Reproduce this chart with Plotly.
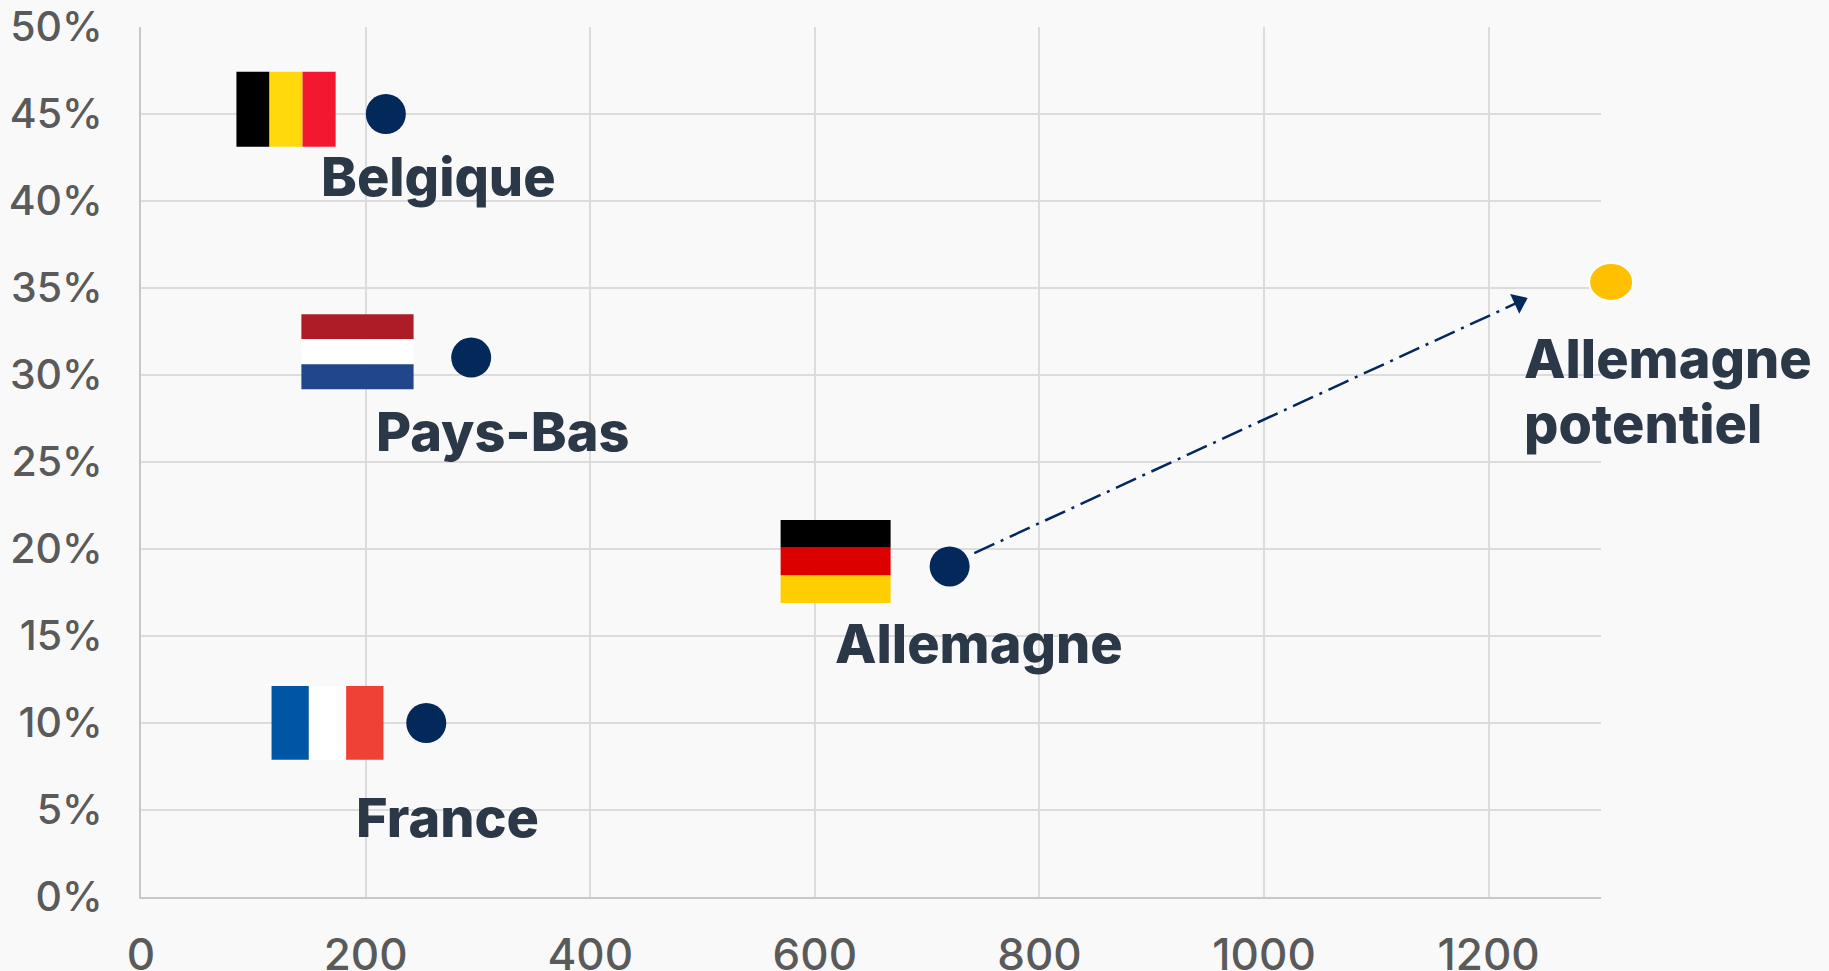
import plotly.graph_objects as go

pays = ["Belgique", "Pays-Bas", "Allemagne", "France"]
valeur_x = [218, 294, 720, 254]
valeur_y = [0.45, 0.31, 0.19, 0.10]

potentiel_lignes = ["Allemagne", "potentiel"]
potentiel_x = [1309]
potentiel_y = [0.3535]

fleche_x = [742, 1227]
fleche_y = [0.1976, 0.342]

x_ticks = [0, 200, 400, 600, 800, 1000, 1200]
y_ticks = [0, 0.05, 0.10, 0.15, 0.20, 0.25, 0.30, 0.35, 0.40, 0.45, 0.50]

X_MAX = 1300
Y_MAX = 0.5

BLEU = "#03285a"
JAUNE = "#ffc000"
TEXTE = "#2b3848"
TICK = "#5a5a5a"
FOND = "#f9f9f9"
FONT = "Inter, sans-serif"

# drapeaux: decalage en pixels par rapport au point (gauche, droite, haut, bas)
drapeaux = {
    "Belgique": dict(box=(-149.4, -50.2, 42.3, -32.7), sens="v", couleurs=["#000000", "#ffd90c", "#f31830"]),
    "Pays-Bas": dict(box=(-169.8, -57.6, 43.3, -31.7), sens="h", couleurs=["#ae1c28", "#ffffff", "#21468b"]),
    "Allemagne": dict(box=(-169, -59, 46.3, -36.7), sens="h", couleurs=["#000000", "#dd0000", "#ffce00"]),
    "France": dict(box=(-154.7, -42.8, 37, -36.7), sens="v", couleurs=["#0055a4", "#ffffff", "#ef4135"]),
}

# decalage des etiquettes par rapport au point
etiquettes = {
    "Belgique": (-67, -28),
    "Pays-Bas": (-97, -39),
    "Allemagne": (-117, -43),
    "France": (-72, -60),
}


def flag_shapes(nom, x, y):
    d = drapeaux[nom]
    gauche, droite, haut, bas = d["box"]
    shapes = []
    for i, couleur in enumerate(d["couleurs"]):
        if d["sens"] == "v":
            pas = (droite - gauche) / 3
            x0, x1, y0, y1 = gauche + i * pas, gauche + (i + 1) * pas, bas, haut
        else:
            pas = (haut - bas) / 3
            x0, x1, y0, y1 = gauche, droite, haut - (i + 1) * pas, haut - i * pas
        shapes.append(dict(type="rect", xref="x", yref="y", xsizemode="pixel", ysizemode="pixel",
                           xanchor=x, yanchor=y, x0=x0, x1=x1, y0=y0, y1=y1,
                           fillcolor=couleur, line=dict(width=0), layer="above"))
    return shapes


fig = go.Figure()

fig.add_trace(go.Scatter(
    x=fleche_x, y=fleche_y, mode="lines+markers",
    line=dict(color=BLEU, width=2.5, dash="22px,7px,3px,7px"),
    marker=dict(symbol=["circle", "triangle-up"], size=[0, 19], color=BLEU, angleref="previous",
                opacity=1, line=dict(width=0)),
    hoverinfo="skip", showlegend=False,
))
fig.add_trace(go.Scatter(
    x=valeur_x, y=valeur_y, mode="markers", text=pays,
    marker=dict(size=40, color=BLEU), showlegend=False,
))
fig.add_trace(go.Scatter(
    x=potentiel_x, y=potentiel_y, mode="markers", cliponaxis=False,
    marker=dict(size=36, color=JAUNE), showlegend=False,
))

shapes = []
for nom, x, y in zip(pays, valeur_x, valeur_y):
    shapes += flag_shapes(nom, x, y)

# le point jaune est un peu ovale et sort de la zone du graphique
shapes.append(dict(type="circle", xref="paper", yref="paper", xsizemode="pixel", ysizemode="pixel",
                   xanchor=potentiel_x[0] / X_MAX, yanchor=potentiel_y[0] / Y_MAX,
                   x0=-22, x1=22, y0=-19, y1=19, fillcolor=JAUNE,
                   line=dict(color="#ffffff", width=2), layer="above"))

label_font = dict(family=FONT, size=54, color=TEXTE, weight=800)

annotations = []
for nom, x, y in zip(pays, valeur_x, valeur_y):
    dx, dy = etiquettes[nom]
    annotations.append(dict(text=nom, xref="paper", yref="paper", x=x / X_MAX, y=y / Y_MAX,
                            xanchor="left", yanchor="top", xshift=dx, yshift=dy, showarrow=False,
                            align="left", font=label_font))

# interligne de 65 px comme l'original: taille 50 pour la boite, 54 pour le texte
potentiel_texte = "<br>".join(f'<span style="font-size:54px">{l}</span>' for l in potentiel_lignes)
annotations.append(dict(text=potentiel_texte, xref="paper", yref="paper",
                        x=potentiel_x[0] / X_MAX, y=potentiel_y[0] / Y_MAX,
                        xanchor="left", yanchor="top", xshift=-89, yshift=-42, showarrow=False,
                        align="left", font=dict(family=FONT, size=50, color=TEXTE, weight=800)))

fig.update_layout(
    width=1829, height=971,
    margin=dict(l=140.8, r=228.4, t=26.5, b=73.5),
    paper_bgcolor=FOND, plot_bgcolor=FOND,
    showlegend=False,
    shapes=shapes,
    annotations=annotations,
    font=dict(family=FONT, color=TICK),
)
fig.update_xaxes(
    range=[0, X_MAX], tickvals=x_ticks, ticklabelstandoff=18, automargin=False,
    tickfont=dict(family=FONT, size=44, color=TICK, weight=500),
    showgrid=True, gridcolor="#dcdcdc", gridwidth=1.5,
    showline=True, linecolor="#c8c8c8", linewidth=2, zeroline=False,
)
fig.update_yaxes(
    range=[0, Y_MAX], tickvals=y_ticks, tickformat=".0%", ticklabelstandoff=28, automargin=False,
    tickfont=dict(family=FONT, size=41, color=TICK, weight=500),
    showgrid=True, gridcolor="#dcdcdc", gridwidth=1.5,
    showline=True, linecolor="#c8c8c8", linewidth=2, zeroline=False,
)

fig.write_html("out.html", config=dict(displayModeBar=False),
               post_script="document.body.style.margin='0';document.body.style.background='#f9f9f9';")
